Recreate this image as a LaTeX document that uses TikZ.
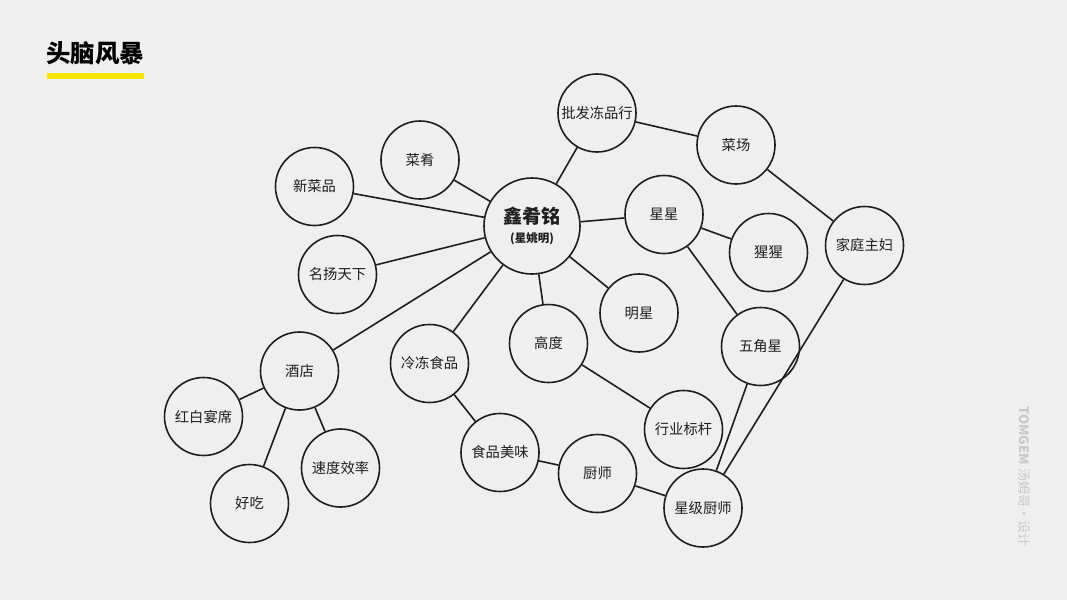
\documentclass[tikz,border=0pt]{standalone}
\usepackage{fontspec}
\setmainfont{Noto Sans CJK SC}
\definecolor{bgc}{HTML}{EFEFEF}
\definecolor{barc}{HTML}{FFE500}
\definecolor{wmc}{HTML}{C8C8C8}
\definecolor{ink}{HTML}{1E1E1E}
\begin{document}
\begin{tikzpicture}[x=1pt,y=-1pt,
  bub/.style={circle,draw=ink,line width=1.6pt,fill=bgc,minimum size=78pt,inner sep=0pt,
    font=\fontsize{14.3}{16}\selectfont,text=ink},
  hub/.style={bub,minimum size=96pt,align=center},
  lnk/.style={line width=1.6pt,draw=ink}]
\useasboundingbox (0,0) rectangle (1067,600);
\fill[bgc] (0,0) rectangle (1067,600);
% title
\node[anchor=west,inner sep=0pt,font=\bfseries\fontsize{24.5}{27}\selectfont,text=black] (title) at (46,53) {头脑风暴};
\fill[barc] (47,73) rectangle (144,79);
% watermark
\node[rotate=-90,anchor=west,inner sep=0pt,text=wmc,font=\fontsize{13}{15}\selectfont] (wm) at (1024,406) {\textbf{TOMGEM}\hspace{4pt}汤姆哥·设计};
% nodes
\node[hub] (c) at (532,226) {{\bfseries\fontsize{19}{22}\selectfont 鑫肴铭}\\[3pt]{\bfseries\fontsize{11.5}{13}\selectfont (星姚明)}};
\node[bub] (pf) at (597,113) {批发冻品行};
\node[bub] (cc) at (736,145) {菜场};
\node[bub] (cy) at (420,160) {菜肴};
\node[bub] (xc) at (314.5,186.5) {新菜品};
\node[bub] (my) at (337.5,274.5) {名扬天下};
\node[bub] (xx) at (664,214.5) {星星};
\node[bub] (ss) at (768.5,252.5) {猩猩};
\node[bub] (jt) at (864.5,245.5) {家庭主妇};
\node[bub] (mx) at (639,313) {明星};
\node[bub] (gd) at (548.5,343.5) {高度};
\node[bub] (wj) at (760.5,346.5) {五角星};
\node[bub] (ld) at (429.5,363.5) {冷冻食品};
\node[bub] (jd) at (299.5,371) {酒店};
\node[bub] (hb) at (203.5,416.5) {红白宴席};
\node[bub] (hc) at (249.5,503.5) {好吃};
\node[bub] (sd) at (340.5,468) {速度效率};
\node[bub] (hy) at (683.5,429.5) {行业标杆};
\node[bub] (sp) at (500,452.5) {食品美味};
\node[bub] (cs) at (597.5,473.5) {厨师};
\node[bub] (xj) at (703,508) {星级厨师};
% links
\draw[lnk] (c) -- (pf);
\draw[lnk] (pf) -- (cc);
\draw[lnk] (cc) -- (jt);
\draw[lnk] (c) -- (cy);
\draw[lnk] (c) -- (xc);
\draw[lnk] (c) -- (my);
\draw[lnk] (c) -- (jd);
\draw[lnk] (c) -- (ld);
\draw[lnk] (c) -- (gd);
\draw[lnk] (c) -- (mx);
\draw[lnk] (c) -- (xx);
\draw[lnk] (xx) -- (ss);
\draw[lnk] (xx) -- (wj);
\draw[lnk] (wj) -- (xj);
\draw[lnk] (jt) -- (xj);
\draw[lnk] (gd) -- (hy);
\draw[lnk] (ld) -- (sp);
\draw[lnk] (sp) -- (cs);
\draw[lnk] (cs) -- (xj);
\draw[lnk] (jd) -- (hb);
\draw[lnk] (jd) -- (hc);
\draw[lnk] (jd) -- (sd);
\end{tikzpicture}
\end{document}
